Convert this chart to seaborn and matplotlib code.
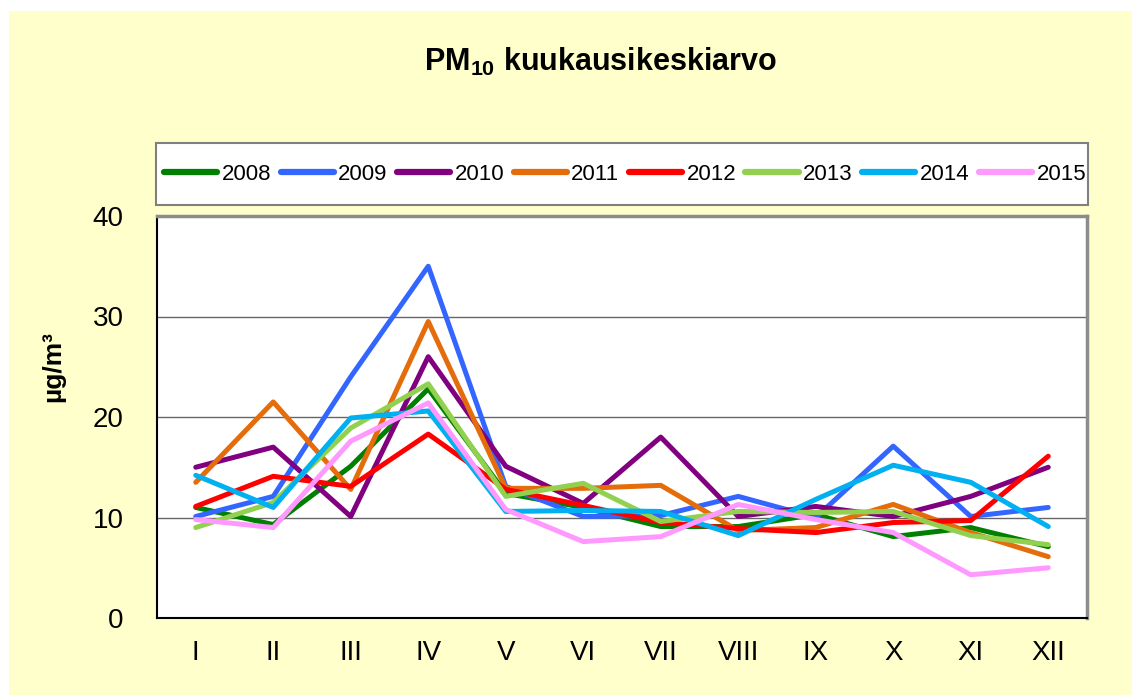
import pandas as pd
import numpy as np
import matplotlib.pyplot as plt
import seaborn as sns
from matplotlib.patches import Rectangle

# Kuukaudet ja vuodet
months = ['I', 'II', 'III', 'IV', 'V', 'VI', 'VII', 'VIII', 'IX', 'X', 'XI', 'XII']
years = ['2008', '2009', '2010', '2011', '2012', '2013', '2014', '2015']

# PM10 kuukausikeskiarvot (µg/m³), luettu kuvasta
pm_2008 = [11.0, 9.3, 15.1, 22.8, 12.4, 11.0, 9.1, 9.1, 10.3, 8.1, 9.0, 7.1]
pm_2009 = [10.1, 12.1, 24.0, 35.0, 13.1, 10.1, 10.2, 12.1, 10.0, 17.1, 10.1, 11.0]
pm_2010 = [15.0, 17.0, 10.1, 26.0, 15.1, 11.4, 18.0, 10.1, 11.1, 10.1, 12.1, 15.0]
pm_2011 = [13.5, 21.5, 12.8, 29.5, 12.9, 12.9, 13.2, 8.7, 9.0, 11.3, 8.5, 6.1]
pm_2012 = [11.1, 14.1, 13.1, 18.3, 12.8, 11.2, 9.5, 8.9, 8.5, 9.5, 9.7, 16.1]
pm_2013 = [9.0, 11.5, 18.9, 23.3, 12.1, 13.4, 9.6, 10.6, 10.5, 10.6, 8.2, 7.3]
pm_2014 = [14.2, 11.0, 19.9, 20.6, 10.6, 10.7, 10.6, 8.2, 11.8, 15.2, 13.5, 9.1]
pm_2015 = [9.8, 9.0, 17.6, 21.4, 10.8, 7.6, 8.1, 11.3, 9.8, 8.5, 4.3, 5.0]

colors = ['#008000', '#3366FF', '#800080', '#E46C0A', '#FF0000', '#92D050', '#00B0F0', '#FF99FF']

series = [pm_2008, pm_2009, pm_2010, pm_2011, pm_2012, pm_2013, pm_2014, pm_2015]
rows = []
for year, vals in zip(years, series):
    for m, v in zip(months, vals):
        rows.append({'Kuukausi': m, 'Vuosi': year, 'PM10': v})
df = pd.DataFrame(rows)

sns.set_theme(style='white')
plt.rcParams['font.family'] = ['Liberation Sans', 'DejaVu Sans']
plt.rcParams['text.color'] = 'black'
plt.rcParams['xtick.color'] = 'black'
plt.rcParams['ytick.color'] = 'black'
plt.rcParams['axes.labelcolor'] = 'black'
plt.rcParams['mathtext.fontset'] = 'custom'
plt.rcParams['mathtext.rm'] = 'Liberation Sans'
plt.rcParams['mathtext.bf'] = 'Liberation Sans:bold'

fig = plt.figure(figsize=(11.32, 6.95), dpi=100, facecolor='white')
fig.patches.append(Rectangle((9 / 1132, 0), 1, 1 - 11 / 695, transform=fig.transFigure,
                             facecolor='#FFFFCC', edgecolor='none', zorder=-10))

ax = fig.add_axes([157 / 1132, 1 - 618 / 695, 930 / 1132, 402 / 695])
ax.set_facecolor('white')

sns.lineplot(data=df, x='Kuukausi', y='PM10', hue='Vuosi', hue_order=years,
             palette=colors, linewidth=3.6, ax=ax, legend=False,
             solid_capstyle='round')

ax.set_xlim(-0.5, 11.5)
ax.set_ylim(0, 40)
ax.set_yticks([0, 10, 20, 30, 40])
ax.set_xticks(np.arange(12))
ax.set_xticklabels(months, fontsize=20)
ax.set_xticks(np.arange(-0.5, 12, 1), minor=True)
ax.tick_params(axis='x', which='major', length=0, pad=16)
ax.tick_params(axis='x', which='minor', length=7, width=1, color='#333333', direction='out')
ax.tick_params(axis='y', labelsize=20, length=10, width=1, color='#555555', direction='out', pad=14)
ax.yaxis.grid(True, color='#666666', linewidth=1)
ax.set_axisbelow(True)

for side in ['left', 'bottom']:
    ax.spines[side].set_color('black')
    ax.spines[side].set_linewidth(1.5)
for side in ['top', 'right']:
    ax.spines[side].set_color('#8C8C8C')
    ax.spines[side].set_linewidth(2.5)

ax.set_xlabel('')
ax.set_ylabel('µg/m³', fontsize=19, fontweight='bold')
ax.yaxis.set_label_coords(-92 / 930, (618 - 367) / 402)

# Selite: kehys erikseen, merkinnät kehyksen sisään
fig.patches.append(Rectangle((156 / 1132, 1 - 205 / 695), 932 / 1132, 62 / 695,
                             transform=fig.transFigure, facecolor='white',
                             edgecolor='#808080', linewidth=1.5, zorder=1))
handles = [plt.Line2D([], [], color=c, linewidth=4.5, solid_capstyle='round') for c in colors]
leg = fig.legend(handles, years, loc='center', ncol=8, mode='expand',
                 bbox_to_anchor=(164 / 1132, 1 - 190 / 695, 922 / 1132, 32 / 695),
                 fontsize=16, frameon=False, handlelength=2.4,
                 handletextpad=0.2, borderpad=0, borderaxespad=0)

fig.text(600 / 1132, 1 - 62 / 695, r'PM$_{\mathbf{10}}$ kuukausikeskiarvo', ha='center', va='center',
         fontsize=22, fontweight='bold')

fig.savefig('out.png', dpi=100, facecolor=fig.get_facecolor())
